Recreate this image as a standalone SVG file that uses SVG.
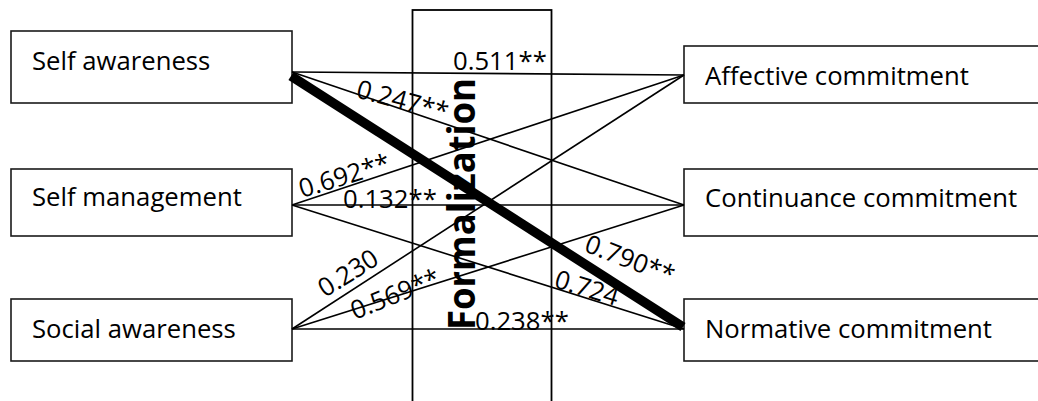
<svg xmlns="http://www.w3.org/2000/svg" width="1038" height="401" viewBox="0 0 1038 401">
<style>
.box{fill:#fff;stroke:#1a1a1a;stroke-width:1.6}
.t{font-family:"Open Sans","Liberation Sans",sans-serif;font-size:25.7px;fill:#000}
.lbl{font-family:"Open Sans","Liberation Sans",sans-serif;font-size:25.7px;fill:#000}
.ln{stroke:#000;stroke-width:1.6;fill:none}
</style>
<rect width="1038" height="401" fill="#fff"/>
<g id="formalization">
<rect x="412.5" y="10" width="139" height="400" fill="none" stroke="#000" stroke-width="1.8"/>
<text x="0" y="0" transform="translate(475,204) rotate(-90)" text-anchor="middle" font-family="'Open Sans','Liberation Sans',sans-serif" font-weight="bold" font-size="38" textLength="252" lengthAdjust="spacingAndGlyphs">Formalization</text>
</g>
<g id="self-awareness"><rect class="box" x="11" y="31" width="281" height="72"/><text class="t" x="32" y="70">Self awareness</text></g>
<g id="self-management"><rect class="box" x="11" y="169" width="281" height="67"/><text class="t" x="32" y="206">Self management</text></g>
<g id="social-awareness"><rect class="box" x="11" y="299" width="281" height="62"/><text class="t" x="32" y="338">Social awareness</text></g>
<g id="affective-commitment"><rect class="box" x="684" y="46" width="370" height="57"/><text class="t" x="705" y="85">Affective commitment</text></g>
<g id="continuance-commitment"><rect class="box" x="684" y="169" width="370" height="67"/><text class="t" x="705" y="207">Continuance commitment</text></g>
<g id="normative-commitment"><rect class="box" x="684" y="299" width="370" height="62"/><text class="t" x="705" y="338">Normative commitment</text></g>
<g id="connectors">
<line class="ln" x1="292" y1="72" x2="684" y2="75"/>
<line class="ln" x1="292" y1="72" x2="684" y2="205"/>
<line class="ln" x1="292" y1="205" x2="684" y2="75"/>
<line class="ln" x1="292" y1="205" x2="684" y2="205"/>
<line class="ln" x1="292" y1="205" x2="684" y2="329"/>
<line class="ln" x1="292" y1="329" x2="684" y2="75"/>
<line class="ln" x1="292" y1="329" x2="684" y2="205"/>
<line class="ln" x1="292" y1="329" x2="684" y2="329"/>
<line x1="291" y1="76" x2="683" y2="327" stroke="#000" stroke-width="9.5"/>
<text class="lbl" x="453" y="70">0.511**</text>
<text class="lbl" transform="translate(355,97) rotate(15)">0.247**</text>
<text class="lbl" transform="translate(302,198) rotate(-17)">0.692**</text>
<text class="lbl" x="343" y="208">0.132**</text>
<text class="lbl" transform="translate(325,298) rotate(-32)">0.230</text>
<text class="lbl" transform="translate(355,320) rotate(-22)">0.569**</text>
<text class="lbl" transform="translate(583,251) rotate(21)">0.790**</text>
<text class="lbl" transform="translate(553,287) rotate(17)">0.724</text>
<text class="lbl" x="475" y="330">0.238**</text>
</g>
</svg>
